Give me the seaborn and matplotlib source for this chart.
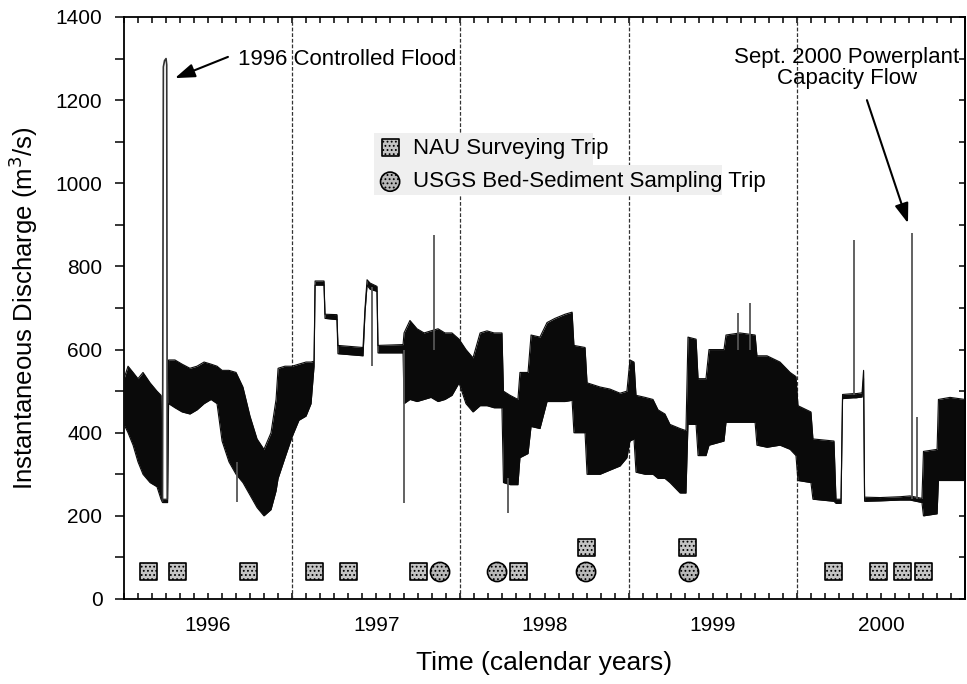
import matplotlib
matplotlib.use("Agg")
import matplotlib.pyplot as plt
import seaborn as sns
import pandas as pd
from matplotlib.patches import Rectangle

# ---------------- data ----------------
year_starts = [1996, 1997, 1998, 1999, 2000]
year_bounds = [1997, 1998, 1999, 2000]
year_labels = ["1996", "1997", "1998", "1999", "2000"]

# envelope of the fluctuating hourly discharge (decimal year, daily low, daily high)
flow_time = [1996.000, 1996.024, 1996.054, 1996.083, 1996.113, 1996.155, 1996.196, 1996.220,
             1996.229, 1996.259, 1996.265, 1996.303, 1996.345, 1996.392, 1996.434, 1996.476,
             1996.517, 1996.553, 1996.583, 1996.624, 1996.666, 1996.707, 1996.749, 1996.791,
             1996.832, 1996.874, 1996.904, 1996.916, 1996.957, 1996.999, 1997.040, 1997.082,
             1997.112, 1997.130, 1997.136, 1997.189, 1997.195, 1997.266, 1997.272, 1997.421,
             1997.433, 1997.445, 1997.463, 1997.504, 1997.510, 1997.659, 1997.665, 1997.700,
             1997.742, 1997.784, 1997.825, 1997.867, 1997.908, 1997.950, 1997.992, 1998.033,
             1998.075, 1998.117, 1998.158, 1998.200, 1998.247, 1998.256, 1998.295, 1998.342,
             1998.354, 1998.402, 1998.420, 1998.473, 1998.515, 1998.562, 1998.622, 1998.664,
             1998.675, 1998.741, 1998.753, 1998.830, 1998.889, 1998.949, 1998.990, 1999.008,
             1999.032, 1999.044, 1999.098, 1999.145, 1999.175, 1999.216, 1999.246, 1999.306,
             1999.341, 1999.353, 1999.401, 1999.413, 1999.460, 1999.478, 1999.567, 1999.579,
             1999.662, 1999.752, 1999.763, 1999.823, 1999.900, 1999.960, 1999.995, 2000.007,
             2000.084, 2000.096, 2000.221, 2000.233, 2000.263, 2000.272, 2000.334, 2000.352,
             2000.388, 2000.397, 2000.403, 2000.495, 2000.614, 2000.673, 2000.744, 2000.753,
             2000.834, 2000.842, 2000.911, 2001.000]
flow_low = [420, 400, 370, 330, 300, 280, 270, 240,
            232, 232, 470, 460, 450, 445, 455, 470,
            480, 470, 380, 330, 300, 280, 250, 220,
            200, 215, 260, 290, 340, 390, 430, 440,
            470, 560, 755, 755, 675, 672, 590, 585,
            690, 755, 745, 740, 592, 592, 470, 480,
            475, 480, 485, 475, 480, 490, 520, 470,
            450, 465, 465, 460, 460, 280, 275, 275,
            340, 350, 415, 410, 475, 475, 475, 478,
            400, 400, 300, 300, 310, 320, 340, 380,
            385, 305, 300, 300, 290, 290, 280, 255,
            255, 420, 420, 345, 345, 370, 380, 425,
            425, 425, 370, 365, 370, 360, 345, 285,
            280, 240, 235, 230, 230, 482, 484, 484,
            486, 530, 235, 236, 238, 238, 232, 200,
            205, 285, 285, 285]
flow_high = [530, 560, 545, 530, 545, 520, 500, 490,
             240, 240, 575, 575, 565, 555, 560, 570,
             565, 560, 550, 550, 545, 510, 440, 385,
             360, 400, 480, 555, 560, 560, 565, 570,
             570, 572, 765, 765, 685, 684, 610, 605,
             700, 768, 760, 752, 610, 612, 640, 670,
             650, 640, 645, 650, 640, 640, 625, 600,
             580, 640, 645, 640, 640, 500, 490, 480,
             545, 545, 635, 630, 665, 675, 685, 690,
             610, 605, 520, 510, 505, 495, 500, 575,
             570, 490, 485, 480, 455, 445, 420, 410,
             405, 630, 625, 530, 530, 600, 600, 635,
             640, 635, 585, 585, 570, 545, 535, 465,
             450, 385, 380, 240, 240, 492, 494, 494,
             496, 550, 245, 244, 246, 248, 242, 355,
             360, 480, 485, 480]

# 1996 controlled flood hydrograph
flood_time = [1996.229, 1996.234, 1996.241, 1996.250, 1996.254, 1996.257]
flood_q = [235, 1280, 1295, 1300, 1285, 240]

# isolated short spikes (decimal year, from, to)
spike_time = [1996.672, 1997.474, 1997.665, 1997.843, 1998.283,
              1999.650, 1999.722, 2000.341, 2000.685, 2000.715]
spike_base = [330, 750, 600, 600, 290, 600, 600, 490, 240, 240]
spike_peak = [233, 560, 230, 875, 207, 688, 712, 864, 880, 438]

# sampling trips
nau_time = [1996.143, 1996.321, 1996.743, 1997.130, 1997.332, 1997.748, 1998.348,
            1998.747, 1999.353, 2000.221, 2000.483, 2000.626, 2000.756]
nau_q = [65, 65, 65, 65, 65, 65, 65, 123, 123, 65, 65, 65, 65]
usgs_time = [1997.879, 1998.218, 1998.747, 1999.359]
usgs_q = [65, 65, 65, 65]

# ---------------- styling ----------------
sns.set_theme(style="ticks")
plt.rcParams["font.family"] = ["Liberation Sans", "DejaVu Sans"]
plt.rcParams["hatch.linewidth"] = 0.8
for key in ["text.color", "axes.labelcolor", "xtick.color", "ytick.color",
            "axes.edgecolor"]:
    plt.rcParams[key] = "black"

fig = plt.figure(figsize=(9.67, 6.84), dpi=100)
ax = fig.add_axes([124 / 967, 85 / 684, 841 / 967, 582 / 684])

flow = pd.DataFrame({"t": flow_time, "low": flow_low, "high": flow_high})
ax.fill_between(flow["t"], flow["low"], flow["high"], color="#0a0a0a", lw=0, zorder=2)
sns.lineplot(data=flow, x="t", y="high", ax=ax, color="#0a0a0a", lw=0.8,
             estimator=None, sort=False, zorder=3)
sns.lineplot(data=flow, x="t", y="low", ax=ax, color="#0a0a0a", lw=0.8,
             estimator=None, sort=False, zorder=3)

sns.lineplot(x=flood_time, y=flood_q, ax=ax, color="#333333", lw=1.2,
             estimator=None, sort=False, zorder=3)
ax.vlines(spike_time, spike_base, spike_peak, colors="#555555", lw=1.3, zorder=3)

for yb in year_bounds:
    ax.axvline(yb, color="#333333", lw=0.9, ls=(0, (3, 1.5)), zorder=1)

sns.scatterplot(x=nau_time, y=nau_q, ax=ax, marker="s", s=150, color="#c4c4c4",
                edgecolor="black", linewidth=1.2, hatch="....", zorder=5,
                label="NAU Surveying Trip", legend=False)
sns.scatterplot(x=usgs_time, y=usgs_q, ax=ax, marker="o", s=190, color="#b8b8b8",
                edgecolor="black", linewidth=1.2, hatch="....", zorder=5,
                label="USGS Bed-Sediment Sampling Trip", legend=False)

ax.set_xlim(1996, 2001)
ax.set_ylim(0, 1400)

# x ticks: year labels at mid-year, month ticks inward on top & bottom
ax.xaxis.remove_overlapping_locs = False
ax.set_xticks([y + 0.5 for y in year_starts])
ax.set_xticklabels(year_labels, fontsize=15)
ax.set_xticks([1996 + k / 12 for k in range(61)], minor=True)
ax.tick_params(axis="x", which="major", length=0, pad=12, colors="black")
ax.tick_params(axis="x", which="minor", direction="in", length=4, width=1.1,
               top=True, bottom=True, colors="black")

# y ticks
ax.set_yticks(range(0, 1401, 200))
ax.set_yticklabels([str(v) for v in range(0, 1401, 200)], fontsize=15)
ax.set_yticks(range(0, 1401, 100), minor=True)
ax.tick_params(axis="y", which="both", direction="out", length=6.5, width=1.1,
               left=True, right=False, pad=9, colors="black")
sec = ax.secondary_yaxis("right")
sec.set_yticks(range(0, 1401, 100))
sec.tick_params(direction="in", length=4, width=1.1, labelright=False, colors="black")
sec.spines["right"].set_linewidth(1.3)
sec.spines["right"].set_color("black")

for sp in ax.spines.values():
    sp.set_linewidth(1.3)
    sp.set_color("black")

ax.set_xlabel("Time (calendar years)", fontsize=19, color="black")
ax.set_ylabel("Instantaneous Discharge (m$^3$/s)", fontsize=18.5, color="black")
ax.xaxis.set_label_coords(0.5, -0.0893)
ax.yaxis.set_label_coords(-0.0999, 0.5)

# annotations
ax.annotate("", xy=(1996.303, 1253), xytext=(1996.618, 1304),
            arrowprops=dict(arrowstyle="-|>,head_length=0.8,head_width=0.28",
                            color="black", lw=1.5, mutation_scale=15,
                            shrinkA=0, shrinkB=0))
ax.text(1996.678, 1297, "1996 Controlled Flood", fontsize=16, ha="left", va="center",
        color="black")

ax.annotate("", xy=(2000.661, 904), xytext=(2000.417, 1200),
            arrowprops=dict(arrowstyle="-|>,head_length=0.8,head_width=0.28",
                            color="black", lw=1.5, mutation_scale=15,
                            shrinkA=0, shrinkB=0))
ax.text(2000.298, 1278, "Sept. 2000 Powerplant\nCapacity Flow", fontsize=16,
        ha="center", va="center", multialignment="center", linespacing=1.0,
        color="black")

# legend with light-grey backing strips
ax.add_patch(Rectangle((0.2973, 0.7457), 0.2604, 0.055, transform=ax.transAxes,
                       facecolor="#efefef", edgecolor="none", zorder=6))
ax.add_patch(Rectangle((0.2973, 0.6942), 0.4138, 0.0515, transform=ax.transAxes,
                       facecolor="#efefef", edgecolor="none", zorder=6))
handles, labels = ax.get_legend_handles_labels()
leg1 = ax.legend([handles[0]], [labels[0]], loc="center left",
                 bbox_to_anchor=(0.3032, 0.7749), frameon=False, fontsize=16,
                 borderpad=0, borderaxespad=0, handlelength=1.0, handletextpad=0.55,
                 scatterpoints=1, labelcolor="black")
leg1.set_zorder(7)
ax.add_artist(leg1)
leg2 = ax.legend([handles[1]], [labels[1]], loc="center left",
                 bbox_to_anchor=(0.3032, 0.7165), frameon=False, fontsize=16,
                 borderpad=0, borderaxespad=0, handlelength=1.0, handletextpad=0.55,
                 scatterpoints=1, labelcolor="black")
leg2.set_zorder(7)

fig.savefig("out.png", dpi=100, facecolor="white")
